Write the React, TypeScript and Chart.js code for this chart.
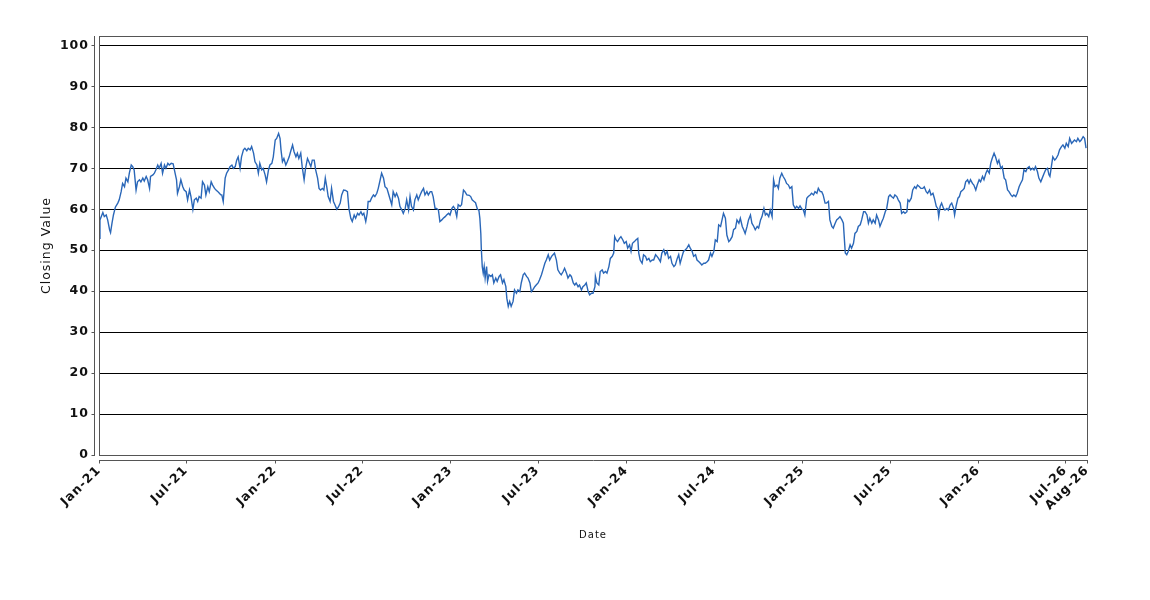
import React, { useEffect, useRef } from "react";
import { Chart, registerables } from "chart.js";

Chart.register(...registerables);

// Dates are given as days elapsed since START_DATE
const START_DATE = "2021-01-01";
const END_DATE = "2026-08-15";

const dayOffsets = [
  0, 2, 8, 11, 15, 18, 22, 24, 27, 30, 34, 39, 42, 46, 49, 53, 56, 60, 63, 67, 70, 73, 77, 80, 84, 87, 91, 94, 98, 101,
  105, 107, 112, 115, 118, 122, 125, 129, 132, 136, 139, 143, 146, 150, 154, 158, 161, 163, 167, 170, 174, 177, 181, 184, 188, 191, 195, 198, 202, 205,
  208, 212, 215, 219, 222, 226, 229, 233, 236, 240, 243, 247, 250, 253,
  255, 258, 262, 265, 269, 272, 276, 279, 283, 286, 289, 293, 296, 300, 303, 307, 310, 314, 317, 321, 324, 328, 331, 334, 338, 341,
  345, 348, 352, 355, 359, 362, 366, 369, 373, 376, 378, 381, 384, 388, 391, 395, 398, 402, 405, 409, 412, 415, 419, 422, 426, 429,
  433, 436, 440, 443, 447, 450, 454, 457, 460, 464, 467, 470, 473, 476, 480, 483, 487, 490, 494, 497, 501, 504, 508,
  512, 516, 519, 523, 526, 530, 533, 537, 540, 544, 547, 550, 554, 557, 559, 563, 566, 570, 573, 577, 580, 584, 587, 591, 594, 598,
  601, 604, 608, 611, 615, 618, 622, 625, 629, 632, 636, 639, 643, 646, 649, 653, 656, 660, 663, 667, 670, 674, 677, 681, 684, 688,
  691, 694, 698, 701, 705, 708, 712, 715, 719, 722, 726, 729, 733, 736, 739, 743, 746, 750, 753, 757, 760, 764,
  769, 772, 775, 779, 782, 786, 789, 791, 793, 794, 796, 798, 800, 802, 805, 807, 810, 814, 817, 820, 824, 827, 831, 834, 838, 841,
  845, 847, 850, 853, 856, 860, 863, 867, 870, 874, 877, 881, 884, 888, 891, 895, 898, 901, 905, 908, 912, 915, 919, 922, 926, 929,
  933, 936, 940, 943, 946, 950, 953, 957, 960, 964, 967, 971, 974, 978, 981, 985, 988, 991, 995, 998, 1002, 1005, 1009, 1012, 1016, 1019, 1023,
  1026, 1030, 1031, 1034, 1038, 1041, 1045, 1048, 1052, 1055, 1059, 1062, 1066, 1069, 1071, 1074, 1077, 1081, 1084, 1088, 1091, 1095, 1098, 1102,
  1105, 1108, 1112, 1115, 1119, 1121, 1124, 1128, 1131, 1135, 1138, 1142, 1145, 1149, 1152, 1156, 1159, 1162, 1166, 1169, 1173, 1176, 1180, 1183,
  1187, 1190, 1194, 1197, 1201, 1204, 1207, 1211, 1214, 1218, 1221, 1225, 1228, 1232, 1235, 1239, 1242, 1246, 1249, 1252, 1256, 1259, 1263, 1266,
  1270, 1273, 1277, 1280,
  1284, 1287, 1291, 1294, 1297, 1301, 1304, 1308, 1311, 1315, 1318, 1322, 1325, 1329, 1332, 1336, 1339, 1342, 1346, 1349, 1353, 1356, 1360, 1363,
  1367, 1370, 1374, 1377, 1381, 1384, 1387, 1391, 1394, 1398, 1401, 1404, 1408, 1411, 1414, 1418, 1421, 1425, 1428, 1432, 1435, 1439, 1442, 1446,
  1449, 1453, 1456, 1459, 1463, 1466, 1470, 1473, 1477, 1480, 1484, 1487, 1491, 1494, 1498, 1501, 1504, 1508, 1511, 1515, 1518, 1522, 1525, 1529,
  1532, 1536, 1539,
  1543, 1546, 1548, 1550, 1553, 1556, 1560, 1563, 1567, 1570, 1574, 1577, 1581, 1584, 1588, 1591, 1595, 1598, 1601, 1605, 1608, 1612, 1615, 1619,
  1622, 1626, 1629, 1633, 1636, 1640, 1643, 1646, 1650, 1653, 1657, 1660, 1664, 1667, 1671, 1674, 1678, 1680, 1683, 1687, 1690, 1694, 1697, 1700,
  1704, 1707, 1711, 1714, 1718, 1721, 1725, 1728, 1732, 1735, 1739, 1742, 1744, 1747, 1750, 1754, 1757, 1761, 1764, 1768, 1771, 1775, 1777, 1780,
  1784, 1787, 1790, 1794, 1797,
  1800, 1804, 1807, 1810, 1814, 1817, 1821, 1824, 1828, 1831, 1835, 1838, 1842, 1845, 1849, 1852, 1855, 1859, 1862, 1866, 1869, 1873, 1876, 1880,
  1883, 1887, 1890, 1894, 1897, 1900, 1904, 1907, 1911, 1914, 1918, 1921, 1925, 1928, 1932, 1935, 1939, 1942, 1945, 1949, 1952, 1956, 1959, 1963,
  1966, 1970, 1973, 1975, 1978, 1981, 1985, 1988, 1992, 1995, 1999, 2002, 2006, 2009, 2013, 2016, 2020, 2023, 2026, 2030, 2033, 2037, 2040, 2044,
  2047, 2050,
];

const closingValues = [
  52.9, 57.4, 59.2, 58.2, 58.6, 57.4, 55.0, 54.3, 56.6, 58.6, 60.5, 61.5, 62.3, 64.3, 66.3, 65.5, 67.6, 66.7, 68.8, 70.8, 70.4, 69.6, 64.7, 66.7, 67.2, 66.7, 67.6, 66.9, 68.0, 67.2,
  65.1, 68.0, 68.4, 68.8, 69.6, 70.8, 70.0, 71.2, 68.8, 70.8, 70.0, 71.2, 70.8, 71.2, 71.1, 68.8, 67.2, 63.9, 65.5, 67.2, 65.5, 64.7, 64.3, 62.3, 64.7, 63.1, 60.0, 62.3, 62.7, 61.9,
  63.1, 62.7, 66.7, 65.9, 63.5, 65.5, 64.3, 66.7, 65.9, 65.1, 64.7, 64.3, 63.9, 63.5,
  63.5, 61.9, 67.6, 68.8, 69.6, 70.4, 70.8, 70.0, 70.4, 72.0, 72.8, 70.0, 72.8, 74.5, 74.9, 74.3, 74.9, 74.5, 75.3, 73.7, 71.6, 70.8, 68.8, 71.2, 69.6, 70.0,
  68.4, 66.7, 69.6, 70.8, 71.2, 72.8, 76.9, 77.3, 78.5, 77.3, 74.5, 71.6, 72.4, 70.8, 71.6, 72.8, 74.1, 75.7, 74.1, 72.8, 73.7, 72.4, 73.7, 70.4, 67.2, 70.0,
  72.4, 71.6, 70.4, 72.0, 72.0, 69.6, 67.6, 65.1, 64.7, 65.1, 64.7, 67.6, 65.5, 63.1, 61.9, 65.1, 61.9, 61.1, 60.0, 60.5, 61.5, 63.5, 64.7,
  64.6, 64.3, 60.2, 57.8, 57.0, 58.6, 57.8, 59.0, 58.6, 59.4, 58.6, 59.0, 57.0, 59.0, 61.9, 61.9, 62.7, 63.5, 63.1, 63.9, 65.1, 67.2, 68.8, 67.6, 65.5, 65.1,
  63.9, 62.7, 61.1, 64.3, 63.1, 63.9, 62.7, 60.7, 59.8, 59.0, 60.2, 62.3, 59.8, 63.1, 60.7, 59.8, 62.3, 63.5, 62.3, 63.5, 64.3, 65.1, 63.5, 64.3, 63.5, 64.3,
  64.3, 63.1, 60.2, 60.2, 59.8, 57.0, 57.4, 57.8, 58.2, 58.6, 59.0, 58.6, 60.2, 60.7, 60.2, 58.2, 61.1, 60.7, 61.1, 64.7, 64.3, 63.5,
  63.4, 63.1, 62.3, 61.9, 61.6, 60.0, 59.8, 57.8, 54.1, 50.5, 46.0, 44.4, 46.0, 43.2, 46.0, 42.4, 44.0, 43.6, 44.0, 42.0, 43.2, 42.4, 43.6, 44.0, 42.0, 42.8,
  41.1, 38.3, 36.3, 37.5, 36.3, 37.5, 40.3, 39.5, 40.3, 39.9, 42.0, 44.0, 44.4, 43.6, 43.2, 42.0, 39.9, 40.3, 41.1, 41.5, 42.0, 42.8, 44.0, 45.2, 46.8, 47.6,
  48.9, 47.6, 48.5, 48.9, 49.3, 47.6, 45.2, 44.4, 44.0, 44.8, 45.6, 44.4, 43.2, 44.0, 43.6, 42.0, 41.5, 42.0, 41.1, 41.5, 40.3, 41.1, 41.5, 42.0, 39.9, 39.1, 39.5,
  39.5, 41.1, 43.6, 42.0, 41.5, 44.8, 45.2, 44.4, 44.8, 44.4, 46.0, 48.0, 48.5, 49.3, 53.3, 52.5, 52.1, 52.9, 53.3, 52.5, 51.7, 52.1, 50.5, 51.3,
  49.7, 51.7, 52.1, 52.5, 52.9, 49.3, 47.6, 46.8, 48.9, 48.5, 47.6, 48.0, 47.2, 47.6, 47.6, 48.9, 48.5, 48.0, 47.2, 49.3, 50.1, 48.9, 49.7, 48.0,
  48.5, 46.8, 46.0, 46.4, 48.0, 48.9, 46.8, 48.5, 49.7, 50.1, 50.5, 51.3, 50.5, 49.7, 48.5, 48.9, 47.6, 47.2, 46.8, 46.4, 46.8, 46.8, 47.2, 47.6,
  49.3, 48.5, 49.7, 52.5,
  52.1, 56.2, 55.8, 57.4, 59.0, 57.8, 53.7, 52.1, 52.5, 53.3, 55.0, 55.4, 57.4, 56.6, 57.8, 55.8, 55.0, 54.1, 55.8, 57.4, 58.6, 56.6, 55.8, 55.0,
  55.8, 55.4, 57.4, 58.2, 60.2, 58.6, 59.0, 58.2, 59.8, 58.2, 67.2, 65.5, 65.9, 65.1, 67.6, 68.8, 68.0, 67.2, 66.3, 65.9, 65.1, 65.5, 61.1, 60.2,
  60.7, 60.2, 60.8, 60.2, 59.8, 58.6, 62.7, 63.1, 63.5, 63.9, 63.5, 64.3, 63.9, 65.1, 64.3, 64.3, 63.5, 61.5, 61.5, 61.9, 57.4, 55.8, 55.4, 56.6,
  57.4, 57.8, 58.2,
  57.4, 56.6, 52.9, 49.3, 48.9, 49.7, 51.3, 50.5, 51.7, 54.1, 54.6, 55.8, 56.2, 57.4, 59.4, 59.4, 58.6, 56.6, 57.8, 56.6, 57.4, 56.6, 58.6, 57.4,
  55.8, 57.0, 57.8, 59.4, 60.2, 63.1, 63.5, 63.1, 62.7, 63.5, 63.1, 62.3, 61.5, 59.0, 59.4, 59.0, 59.4, 62.3, 61.9, 62.7, 64.7, 65.5, 65.1, 65.9,
  65.5, 65.1, 65.1, 65.5, 64.3, 63.9, 64.7, 63.5, 63.9, 62.7, 60.7, 60.2, 58.2, 60.7, 61.5, 60.2, 59.8, 60.2, 59.8, 61.1, 61.5, 60.2, 58.6, 60.7,
  62.7, 63.1, 64.3, 64.7, 65.1,
  66.7, 67.2, 66.3, 67.2, 66.3, 65.9, 64.7, 65.9, 67.2, 66.7, 68.0, 67.2, 68.8, 69.6, 68.8, 71.2, 72.4, 73.7, 72.8, 71.2, 72.0, 70.0, 70.4, 67.6,
  67.2, 64.7, 64.3, 63.5, 63.1, 63.5, 63.1, 63.9, 65.5, 66.3, 67.2, 69.6, 69.2, 70.0, 70.4, 69.6, 70.0, 69.6, 70.4, 69.2, 67.6, 66.7, 67.6, 68.8,
  69.6, 70.0, 68.4, 68.0, 70.4, 72.8, 72.0, 72.4, 73.3, 74.5, 75.3, 75.7, 74.9, 76.1, 75.3, 77.3, 76.1, 76.5, 76.9, 76.5, 77.3, 76.5, 76.9, 77.7,
  77.3, 74.9,
];

const tickDates = [
  "2021-01-01", "2021-07-01", "2022-01-01", "2022-07-01", "2023-01-01", "2023-07-01",
  "2024-01-01", "2024-07-01", "2025-01-01", "2025-07-01", "2026-01-01", "2026-07-01", END_DATE,
];
const tickLabels = [
  "Jan-21", "Jul-21", "Jan-22", "Jul-22", "Jan-23", "Jul-23",
  "Jan-24", "Jul-24", "Jan-25", "Jul-25", "Jan-26", "Jul-26", "Aug-26",
];

const Y_MIN = 0;
const Y_MAX = 102.3;
const Y_STEP = 10;

const daysSinceStart = (d: string) => Math.round((Date.parse(d) - Date.parse(START_DATE)) / 86400000);

// the reference uses a wide sans face; widen DejaVu Sans a little
const spacingPlugin = {
  id: "spacing",
  beforeUpdate(chart: any) {
    chart.ctx.letterSpacing = "1px";
  },
  beforeDraw(chart: any) {
    chart.ctx.letterSpacing = "1px";
  },
};

const framePlugin = {
  id: "frame",
  afterDraw(chart: any) {
    const { ctx, chartArea: a, scales } = chart;
    const L = Math.round(a.left);
    const R = Math.round(a.right);
    const T = Math.round(a.top);
    const B = Math.round(a.bottom);
    ctx.save();
    ctx.lineWidth = 1;
    ctx.strokeStyle = "#555555";
    ctx.strokeRect(L + 0.5, T + 0.5, R - L, B - T);
    ctx.beginPath();
    const yx = L - 5 + 0.5;
    ctx.moveTo(yx, T);
    ctx.lineTo(yx, B + 1);
    scales.y.ticks.forEach((t: any) => {
      const py = Math.round(scales.y.getPixelForValue(t.value)) + 0.5;
      ctx.moveTo(yx - 3, py);
      ctx.lineTo(yx, py);
    });
    const xy = B + 5 + 0.5;
    ctx.moveTo(L, xy);
    ctx.lineTo(R + 1, xy);
    scales.x.ticks.forEach((t: any) => {
      const px = Math.round(scales.x.getPixelForValue(t.value)) + 0.5;
      ctx.moveTo(px, xy);
      ctx.lineTo(px, xy + 3);
    });
    ctx.stroke();
    ctx.restore();
  },
};

export default function App() {
  const ref = useRef<HTMLCanvasElement | null>(null);

  useEffect(() => {
    if (!ref.current) return;
    const points = dayOffsets.map((d, i) => ({ x: d, y: closingValues[i] }));
    const tickDays = tickDates.map(daysSinceStart);
    const chart = new Chart(ref.current, {
      type: "line",
      data: {
        datasets: [
          {
            label: "Closing Value",
            data: points,
            borderColor: "#2a67b8",
            borderWidth: 1.4,
            pointRadius: 0,
            tension: 0,
            fill: false,
          },
        ],
      },
      options: {
        animation: false,
        responsive: false,
        events: [],
        layout: { padding: { left: 0, top: 28, right: 55, bottom: 0 } },
        plugins: { legend: { display: false }, tooltip: { enabled: false } },
        scales: {
          x: {
            type: "linear",
            min: 0,
            max: daysSinceStart(END_DATE),
            grid: { display: false, drawTicks: false },
            border: { display: false },
            afterBuildTicks: (scale: any) => {
              scale.ticks = tickDays.map((v) => ({ value: v }));
            },
            afterFit: (scale: any) => {
              scale.height = 137;
            },
            ticks: {
              autoSkip: false,
              maxRotation: 45,
              minRotation: 45,
              padding: 8,
              color: "#111111",
              font: { family: "DejaVu Sans", size: 12.5, weight: "bold" },
              callback: (_v: any, i: number) => tickLabels[i],
            },
            title: {
              display: true,
              text: "Date",
              color: "#111111",
              font: { family: "DejaVu Sans", size: 10, weight: "normal" },
              padding: { top: 0, bottom: 51 },
            },
          },
          y: {
            type: "linear",
            min: Y_MIN,
            max: Y_MAX,
            grid: { color: "#000000", lineWidth: 1, drawTicks: false },
            border: { display: false },
            afterFit: (scale: any) => {
              scale.width = 91;
            },
            ticks: {
              stepSize: Y_STEP,
              includeBounds: false,
              padding: 10,
              color: "#111111",
              font: { family: "DejaVu Sans", size: 12.5, weight: "bold" },
            },
            title: {
              display: true,
              text: "Closing Value",
              color: "#111111",
              font: { family: "DejaVu Sans", size: 12.5, weight: "normal" },
              padding: { top: 31, bottom: 0 },
            },
          },
        },
      },
      plugins: [spacingPlugin, framePlugin],
    });
    return () => chart.destroy();
  }, []);

  return (
    <div style={{ width: 1134, height: 584 }}>
      <canvas ref={ref} width={1134} height={584} />
    </div>
  );
}
